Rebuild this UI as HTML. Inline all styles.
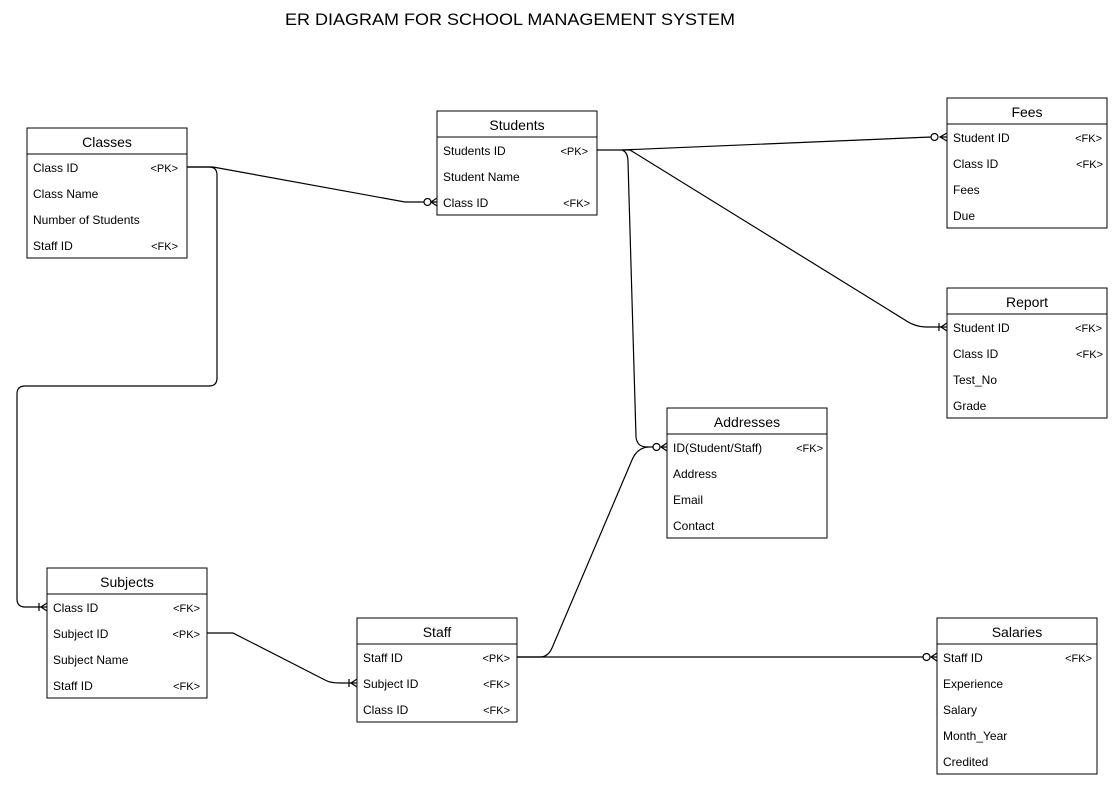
<!DOCTYPE html>
<html><head><meta charset="utf-8"><style>
html,body{margin:0;padding:0;background:#fff;}
svg{display:block;font-family:"Liberation Sans",Arial,sans-serif;}
</style></head><body>
<svg width="1118" height="788" viewBox="0 0 1118 788" xmlns="http://www.w3.org/2000/svg">
<rect width="1118" height="788" fill="#fff"/>
<text x="285" y="25" font-size="17" textLength="450" lengthAdjust="spacingAndGlyphs" fill="#000">ER DIAGRAM FOR SCHOOL MANAGEMENT SYSTEM</text>
<g fill="none" stroke="#000" stroke-width="1.2">
<path d="M187,167 L213,167 L405,202 L424,202"/>
<circle cx="427.5" cy="202" r="3.5" fill="#fff"/>
<path d="M437,198 L431,202 L437,206 M431,202 L437,202"/>
<path d="M187,167 L209,167 Q217,167 217,175 L217,378 Q217,386 209,386 L25,386 Q17,386 17,394 L17,599 Q17,607 25,607 L47,607"/>
<path d="M39,603 L39,611 M47,603 L41,607 L47,611"/>
<path d="M597,150 L622,150 L931,137"/>
<circle cx="934.5" cy="137" r="3.5" fill="#fff"/>
<path d="M947,133 L940,137 L947,141 M940,137 L947,137"/>
<path d="M622,150 L630,150 L905,320 Q915,327 927,327 L947,327"/>
<path d="M939,323 L939,331 M947,323 L941,327 L947,331"/>
<path d="M622,150 Q628,152 628,162 L636,437 Q637,447 647,447 L653,447"/>
<circle cx="656.5" cy="447" r="3.5" fill="#fff"/>
<path d="M667,443 L661,447 L667,451 M661,447 L667,447"/>
<path d="M207,633 L233,633 L325,680 Q330,683 340,683 L357,683"/>
<path d="M349,679 L349,687 M357,679 L351,683 L357,687"/>
<path d="M517,657 L923,657"/>
<circle cx="926.5" cy="657" r="3.5" fill="#fff"/>
<path d="M937,653 L931,657 L937,661 M931,657 L937,657"/>
<path d="M517,657 L540,657 Q548,657 552,648 L632,460 Q637,448 648,447"/>
</g>
<g font-size="12" fill="#000">
<rect x="27" y="128" width="160" height="130" fill="#fff" stroke="#000"/>
<line x1="27" y1="154" x2="187" y2="154" stroke="#000"/>
<text x="107" y="147" font-size="14" text-anchor="middle">Classes</text>
<text x="33" y="172">Class ID</text><text x="178" y="172" font-size="11" text-anchor="end">&lt;PK&gt;</text>
<text x="33" y="198">Class Name</text>
<text x="33" y="224">Number of Students</text>
<text x="33" y="250">Staff ID</text><text x="178" y="250" font-size="11" text-anchor="end">&lt;FK&gt;</text>
<rect x="437" y="111" width="160" height="104" fill="#fff" stroke="#000"/>
<line x1="437" y1="137" x2="597" y2="137" stroke="#000"/>
<text x="517" y="130" font-size="14" text-anchor="middle">Students</text>
<text x="443" y="155">Students ID</text><text x="588" y="155" font-size="11" text-anchor="end">&lt;PK&gt;</text>
<text x="443" y="181">Student Name</text>
<text x="443" y="207">Class ID</text><text x="590" y="207" font-size="11" text-anchor="end">&lt;FK&gt;</text>
<rect x="947" y="98" width="160" height="130" fill="#fff" stroke="#000"/>
<line x1="947" y1="124" x2="1107" y2="124" stroke="#000"/>
<text x="1027" y="117" font-size="14" text-anchor="middle">Fees</text>
<text x="953" y="142">Student ID</text><text x="1102" y="142" font-size="11" text-anchor="end">&lt;FK&gt;</text>
<text x="953" y="168">Class ID</text><text x="1103" y="168" font-size="11" text-anchor="end">&lt;FK&gt;</text>
<text x="953" y="194">Fees</text>
<text x="953" y="220">Due</text>
<rect x="947" y="288" width="160" height="130" fill="#fff" stroke="#000"/>
<line x1="947" y1="314" x2="1107" y2="314" stroke="#000"/>
<text x="1027" y="307" font-size="14" text-anchor="middle">Report</text>
<text x="953" y="332">Student ID</text><text x="1102" y="332" font-size="11" text-anchor="end">&lt;FK&gt;</text>
<text x="953" y="358">Class ID</text><text x="1103" y="358" font-size="11" text-anchor="end">&lt;FK&gt;</text>
<text x="953" y="384">Test_No</text>
<text x="953" y="410">Grade</text>
<rect x="667" y="408" width="160" height="130" fill="#fff" stroke="#000"/>
<line x1="667" y1="434" x2="827" y2="434" stroke="#000"/>
<text x="747" y="427" font-size="14" text-anchor="middle">Addresses</text>
<text x="673" y="452">ID(Student/Staff)</text><text x="823" y="452" font-size="11" text-anchor="end">&lt;FK&gt;</text>
<text x="673" y="478">Address</text>
<text x="673" y="504">Email</text>
<text x="673" y="530">Contact</text>
<rect x="47" y="568" width="160" height="130" fill="#fff" stroke="#000"/>
<line x1="47" y1="594" x2="207" y2="594" stroke="#000"/>
<text x="127" y="587" font-size="14" text-anchor="middle">Subjects</text>
<text x="53" y="612">Class ID</text><text x="200" y="612" font-size="11" text-anchor="end">&lt;FK&gt;</text>
<text x="53" y="638">Subject ID</text><text x="200" y="638" font-size="11" text-anchor="end">&lt;PK&gt;</text>
<text x="53" y="664">Subject Name</text>
<text x="53" y="690">Staff ID</text><text x="200" y="690" font-size="11" text-anchor="end">&lt;FK&gt;</text>
<rect x="357" y="618" width="160" height="104" fill="#fff" stroke="#000"/>
<line x1="357" y1="644" x2="517" y2="644" stroke="#000"/>
<text x="437" y="637" font-size="14" text-anchor="middle">Staff</text>
<text x="363" y="662">Staff ID</text><text x="510" y="662" font-size="11" text-anchor="end">&lt;PK&gt;</text>
<text x="363" y="688">Subject ID</text><text x="510" y="688" font-size="11" text-anchor="end">&lt;FK&gt;</text>
<text x="363" y="714">Class ID</text><text x="510" y="714" font-size="11" text-anchor="end">&lt;FK&gt;</text>
<rect x="937" y="618" width="160" height="156" fill="#fff" stroke="#000"/>
<line x1="937" y1="644" x2="1097" y2="644" stroke="#000"/>
<text x="1017" y="637" font-size="14" text-anchor="middle">Salaries</text>
<text x="943" y="662">Staff ID</text><text x="1092" y="662" font-size="11" text-anchor="end">&lt;FK&gt;</text>
<text x="943" y="688">Experience</text>
<text x="943" y="714">Salary</text>
<text x="943" y="740">Month_Year</text>
<text x="943" y="766">Credited</text>
</g>
</svg>
</body></html>
